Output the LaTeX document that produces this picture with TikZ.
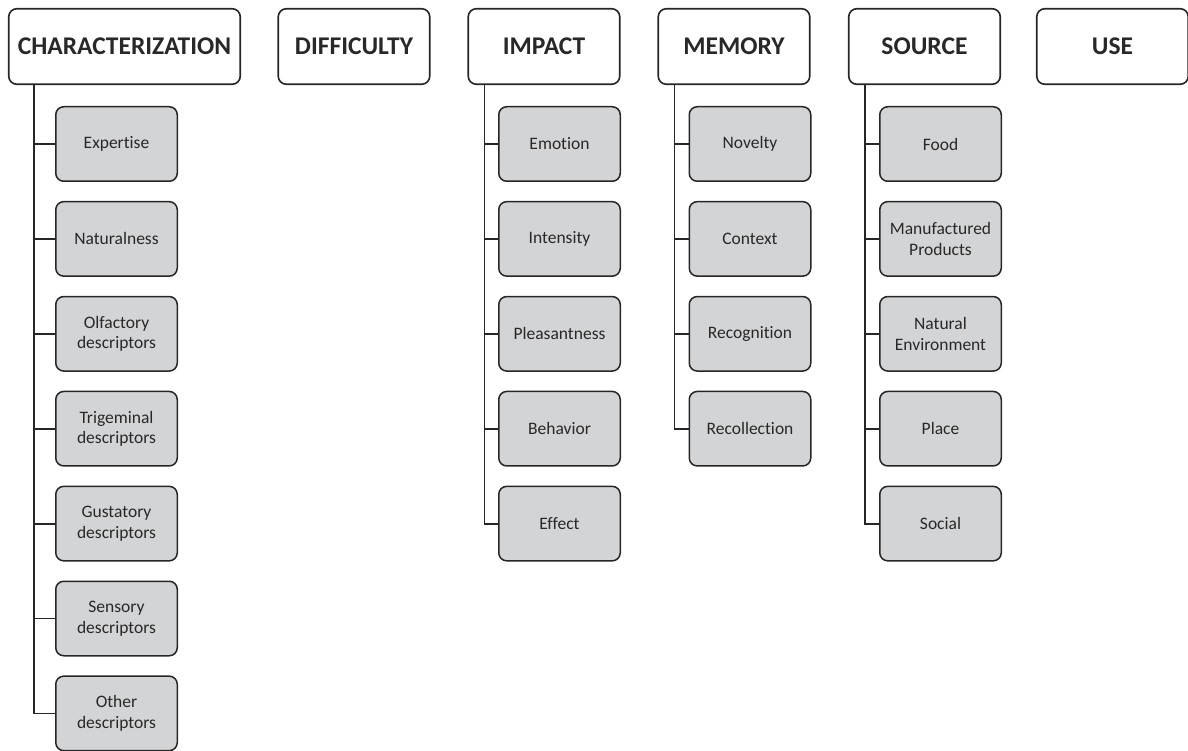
\documentclass[tikz,border=0pt]{standalone}
\definecolor{edgegray}{RGB}{38, 38, 38}
\definecolor{boxgray}{RGB}{211, 212, 214}
\definecolor{inkgray}{RGB}{40, 40, 40}
\usepackage{fontspec}
\setmainfont{Carlito}[Ligatures=NoCommon]
\usepackage{tikz}
\usetikzlibrary{positioning}

\begin{document}
\begin{tikzpicture}[x=1pt, y=-1pt, node distance=18.9pt,
    header/.style={rectangle, draw=edgegray, fill=white, line width=1.6pt, rounded corners=8pt, minimum width=151.5pt, minimum height=75.5pt, text=inkgray, font=\fontsize{25.5}{30}\selectfont\bfseries},
    item/.style={rectangle, draw=edgegray, fill=boxgray, line width=1.5pt, rounded corners=8pt, minimum width=121.5pt, minimum height=74.5pt, inner sep=2pt, align=center, text=inkgray, font=\fontsize{17.5}{20.5}\selectfont},
    branch/.style={draw=edgegray, line width=1.8pt}]
      \useasboundingbox (0,0) rectangle (1188,751);

      % category headers
      \node (charac) [header, minimum width=231.5pt] at (124.5,46.5) {CHARACTERIZATION};
      \node (diffic) [header] at (354,46.5) {DIFFICULTY};
      \node (impact) [header] at (544,46.5) {IMPACT};
      \node (memory) [header] at (734,46.5) {MEMORY};
      \node (source) [header] at (924.5,46.5) {SOURCE};
      \node (use) [header] at (1112.5,46.5) {USE};

      % characterization
      \node (expert) [item] at (116.5,144) {Expertise};
      \node (natural) [item, below=of expert] {Naturalness};
      \node (olfact) [item, below=of natural] {Olfactory\\descriptors};
      \node (trigem) [item, below=of olfact] {Trigeminal\\descriptors};
      \node (gustat) [item, below=of trigem] {Gustatory\\descriptors};
      \node (sensory) [item, below=of gustat] {Sensory\\descriptors};
      \node (other) [item, below=of sensory] {Other\\descriptors};

      % impact
      \node (emotion) [item] at (559.5,144) {Emotion};
      \node (intens) [item, below=of emotion] {Intensity};
      \node (pleas) [item, below=of intens] {Pleasantness};
      \node (behav) [item, below=of pleas] {Behavior};
      \node (effect) [item, below=of behav] {Effect};

      % memory
      \node (novelty) [item] at (750,144) {Novelty};
      \node (context) [item, below=of novelty] {Context};
      \node (recog) [item, below=of context] {Recognition};
      \node (recoll) [item, below=of recog] {Recollection};

      % source
      \node (food) [item] at (940.5,144) {Food};
      \node (manuf) [item, below=of food] {Manufactured\\Products};
      \node (nature) [item, below=of manuf] {Natural\\Environment};
      \node (place) [item, below=of nature] {Place};
      \node (social) [item, below=of place] {Social};

      \foreach \sub in {expert, natural, olfact, trigem, gustat, sensory, other}
        \draw[branch] ([xshift=26pt]charac.south west) |- (\sub.west);
      \foreach \sub in {emotion, intens, pleas, behav, effect}
        \draw[branch] ([xshift=17pt]impact.south west) |- (\sub.west);
      \foreach \sub in {novelty, context, recog, recoll}
        \draw[branch] ([xshift=17pt]memory.south west) |- (\sub.west);
      \foreach \sub in {food, manuf, nature, place, social}
        \draw[branch] ([xshift=17pt]source.south west) |- (\sub.west);
    \end{tikzpicture}
\end{document}
